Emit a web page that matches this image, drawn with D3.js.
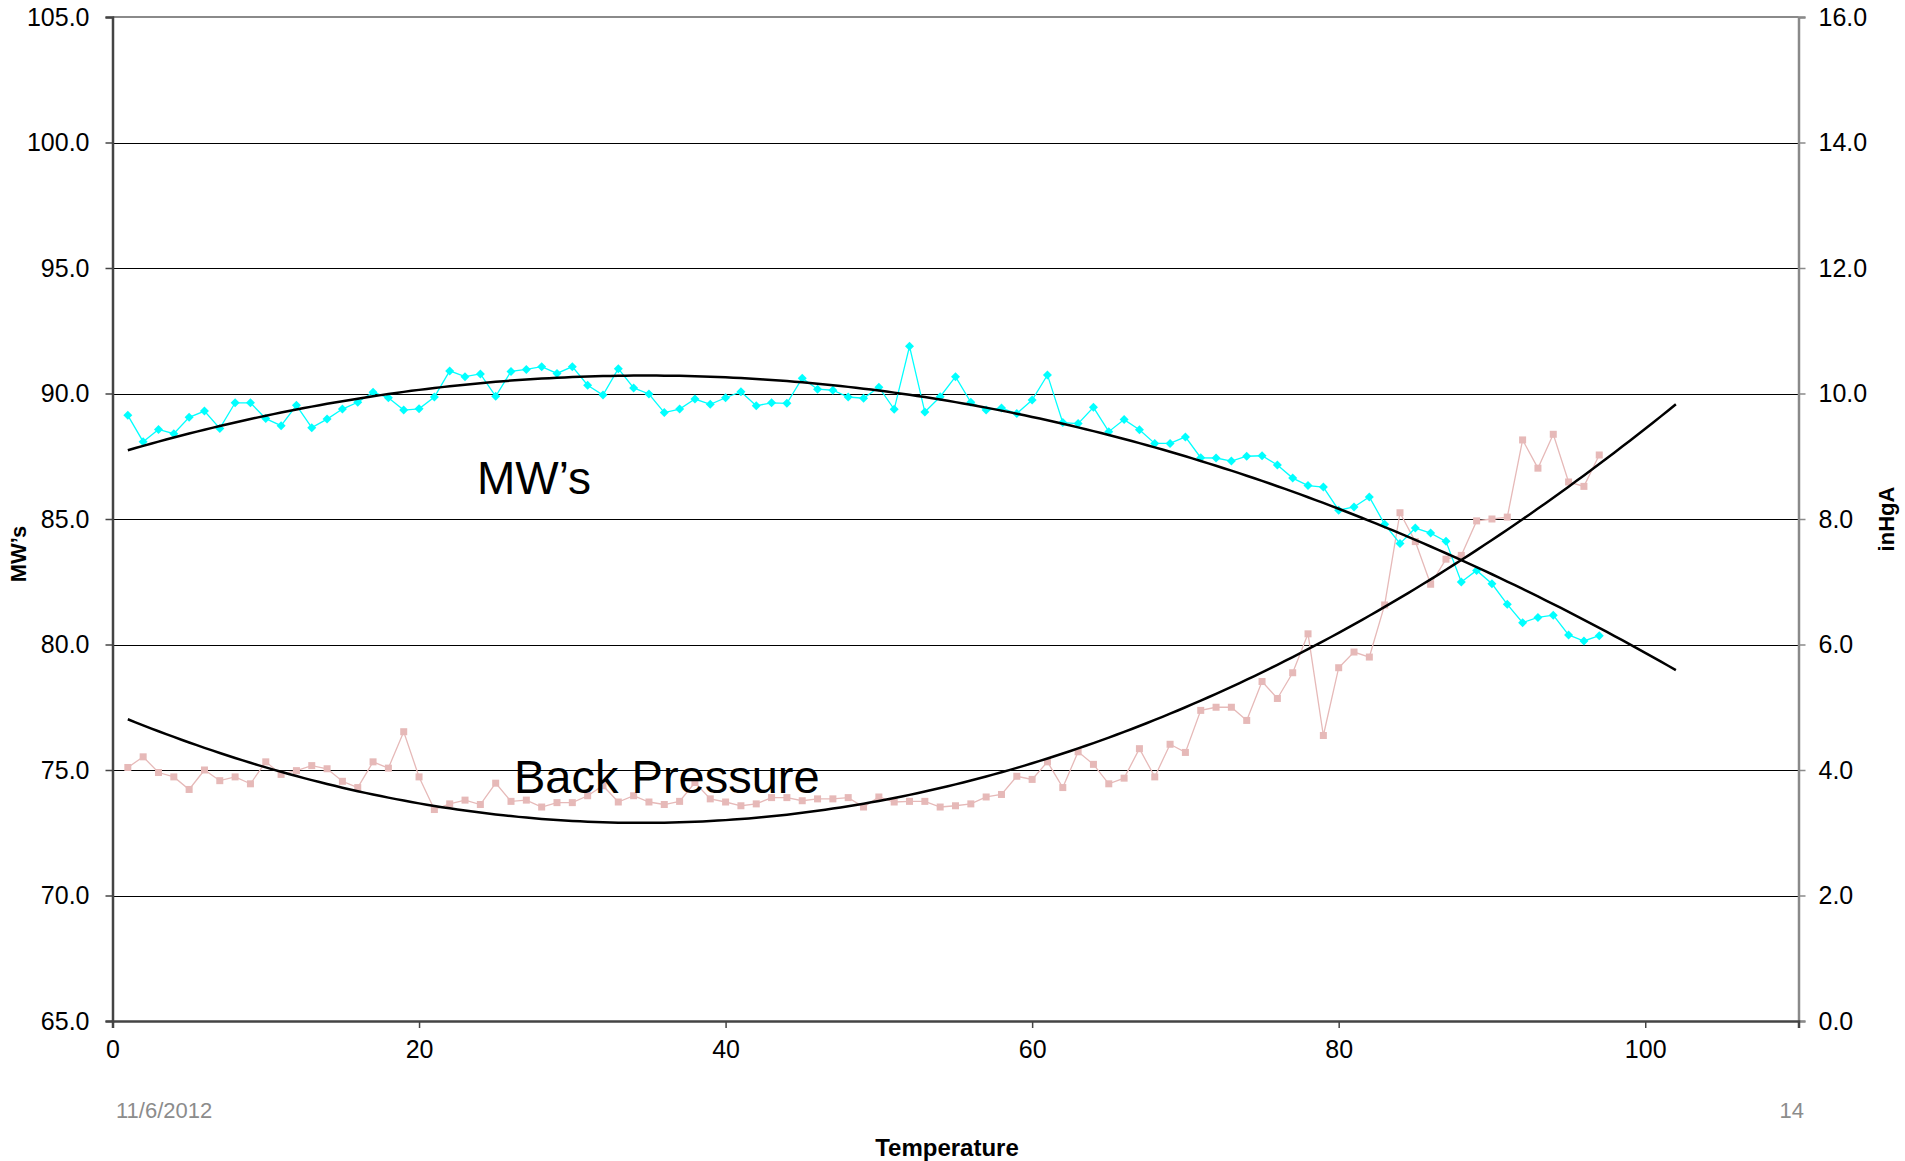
<!DOCTYPE html>
<html>
<head>
  <meta charset="utf-8">
  <script src="https://d3js.org/d3.v7.min.js"></script>
  <style>
    body { margin: 0; background: #fff; font-family: 'Liberation Sans', Arial, sans-serif; }
  </style>
</head>
<body>
  <div id="my_dataviz"></div>

  <script>
    // temperature (x) for each reading
    var temps = [1, 2, 3, 4, 5, 6, 7, 8, 9, 10, 11, 12, 13, 14, 15, 16, 17, 18, 19, 20,
      21, 22, 23, 24, 25, 26, 27, 28, 29, 30, 31, 32, 33, 34, 35, 36, 37, 38, 39, 40,
      41, 42, 43, 44, 45, 46, 47, 48, 49, 50, 51, 52, 53, 54, 55, 56, 57, 58, 59, 60,
      61, 62, 63, 64, 65, 66, 67, 68, 69, 70, 71, 72, 73, 74, 75, 76, 77, 78, 79, 80,
      81, 82, 83, 84, 85, 86, 87, 88, 89, 90, 91, 92, 93, 94, 95, 96, 97];

    // MW's (left axis)
    var mw = [89.13, 88.08, 88.57, 88.40, 89.05, 89.30, 88.61, 89.63, 89.63, 89.00,
      88.72, 89.53, 88.64, 88.98, 89.38, 89.65, 90.05, 89.83, 89.34, 89.39,
      89.86, 90.90, 90.67, 90.78, 89.89, 90.88, 90.96, 91.07, 90.80, 91.07,
      90.33, 89.94, 90.99, 90.22, 89.98, 89.24, 89.38, 89.78, 89.57, 89.83,
      90.07, 89.51, 89.63, 89.61, 90.61, 90.17, 90.13, 89.86, 89.81, 90.25,
      89.37, 91.88, 89.26, 89.87, 90.67, 89.65, 89.34, 89.42, 89.20, 89.74,
      90.74, 88.84, 88.80, 89.45, 88.48, 88.96, 88.56, 88.01, 88.01, 88.27,
      87.44, 87.43, 87.31, 87.50, 87.52, 87.15, 86.63, 86.33, 86.27, 85.35,
      85.48, 85.88, 84.79, 84.02, 84.64, 84.44, 84.11, 82.49, 82.95, 82.42,
      81.60, 80.87, 81.08, 81.17, 80.38, 80.14, 80.35];

    // back pressure in inHgA (right axis)
    var bp = [4.04, 4.21, 3.96, 3.89, 3.69, 4.00, 3.83, 3.89, 3.78, 4.13,
      3.93, 3.99, 4.07, 4.02, 3.82, 3.72, 4.13, 4.03, 4.61, 3.89,
      3.37, 3.46, 3.52, 3.45, 3.79, 3.50, 3.52, 3.41, 3.48, 3.48,
      3.59, 3.75, 3.49, 3.59, 3.49, 3.45, 3.50, 3.80, 3.54, 3.49,
      3.43, 3.46, 3.56, 3.56, 3.51, 3.54, 3.54, 3.56, 3.41, 3.57,
      3.49, 3.50, 3.50, 3.41, 3.43, 3.46, 3.57, 3.61, 3.90, 3.85,
      4.13, 3.72, 4.29, 4.09, 3.78, 3.87, 4.34, 3.89, 4.41, 4.28,
      4.95, 5.00, 5.00, 4.79, 5.41, 5.14, 5.55, 6.17, 4.55, 5.63,
      5.88, 5.80, 6.63, 8.10, 7.64, 6.96, 7.36, 7.42, 7.97, 8.00,
      8.03, 9.26, 8.81, 9.35, 8.59, 8.52, 9.02];

    var xTicks = [0, 20, 40, 60, 80, 100];
    var yLeftTicks = [65, 70, 75, 80, 85, 90, 95, 100, 105];
    var yRightTicks = [0, 2, 4, 6, 8, 10, 12, 14, 16];
    var trendEnd = 102; // trendlines run a little past the last reading

    var W = 1905, H = 1161;
    var plotLeft = 112.5, plotRight = 1798.5, plotTop = 17, plotBottom = 1021;

    var svg = d3.select("#my_dataviz")
      .append("svg")
      .attr("width", W)
      .attr("height", H);

    var x = d3.scaleLinear().domain([0, 110]).range([plotLeft, plotRight]);
    var y = d3.scaleLinear().domain([65, 105]).range([plotBottom, plotTop]);
    var y2 = d3.scaleLinear().domain([0, 16]).range([plotBottom, plotTop]);

    // horizontal gridlines
    svg.append("g")
      .selectAll("line")
      .data(yLeftTicks.slice(1, -1))
      .enter()
      .append("line")
      .attr("x1", plotLeft).attr("x2", plotRight)
      .attr("y1", function (d) { return Math.round(y(d)) + 0.5; })
      .attr("y2", function (d) { return Math.round(y(d)) + 0.5; })
      .attr("stroke", "#000")
      .attr("stroke-width", 1);

    // top border
    svg.append("line")
      .attr("x1", plotLeft).attr("x2", plotRight)
      .attr("y1", plotTop).attr("y2", plotTop)
      .attr("stroke", "#8a8a8a").attr("stroke-width", 2);

    // left axis
    var gl = svg.append("g").attr("transform", "translate(" + plotLeft + ",0)")
      .call(d3.axisLeft(y).tickValues(yLeftTicks).tickFormat(d3.format(".1f")).tickSize(7).tickPadding(16));
    gl.select(".domain").attr("stroke", "#444").attr("stroke-width", 2.5);
    gl.selectAll(".tick line").attr("stroke", "#444").attr("stroke-width", 1.5);
    gl.selectAll("text").attr("font-size", 25).attr("fill", "#000")
      .attr("font-family", "'Liberation Sans', Arial, sans-serif");

    // right axis
    var gr = svg.append("g").attr("transform", "translate(" + plotRight + ",0)")
      .call(d3.axisRight(y2).tickValues(yRightTicks).tickFormat(d3.format(".1f")).tickSize(7).tickPadding(13));
    gr.select(".domain").attr("stroke", "#8a8a8a").attr("stroke-width", 2.5);
    gr.selectAll(".tick line").attr("stroke", "#8a8a8a").attr("stroke-width", 1.5);
    gr.selectAll("text").attr("font-size", 25).attr("fill", "#000")
      .attr("font-family", "'Liberation Sans', Arial, sans-serif");

    // bottom axis
    var gb = svg.append("g").attr("transform", "translate(0," + plotBottom + ")")
      .call(d3.axisBottom(x).tickValues(xTicks).tickSize(7).tickPadding(12));
    gb.select(".domain").attr("stroke", "#444").attr("stroke-width", 2.5);
    gb.selectAll(".tick line").attr("stroke", "#444").attr("stroke-width", 1.5);
    gb.selectAll("text").attr("font-size", 25).attr("fill", "#000")
      .attr("font-family", "'Liberation Sans', Arial, sans-serif");

    // least squares quadratic, as a polynomial trendline
    function quadFit(xs, ys) {
      var n = xs.length, s = [0, 0, 0, 0, 0], t = [0, 0, 0];
      for (var i = 0; i < n; i++) {
        var p = 1;
        for (var k = 0; k < 5; k++) { s[k] += p; if (k < 3) t[k] += p * ys[i]; p *= xs[i]; }
      }
      var A = [[s[0], s[1], s[2], t[0]], [s[1], s[2], s[3], t[1]], [s[2], s[3], s[4], t[2]]];
      for (var c = 0; c < 3; c++) {
        for (var r = c + 1; r < 3; r++) {
          var f = A[r][c] / A[c][c];
          for (var j = c; j < 4; j++) A[r][j] -= f * A[c][j];
        }
      }
      var b = [0, 0, 0];
      for (var r2 = 2; r2 >= 0; r2--) {
        var v = A[r2][3];
        for (var j2 = r2 + 1; j2 < 3; j2++) v -= A[r2][j2] * b[j2];
        b[r2] = v / A[r2][r2];
      }
      return function (u) { return b[0] + b[1] * u + b[2] * u * u; };
    }

    var mwFit = quadFit(temps, mw);
    var bpFit = quadFit(temps, bp);
    var trendX = d3.range(1, trendEnd + 0.01, 0.5);

    // back pressure series
    svg.append("path")
      .datum(temps)
      .attr("fill", "none")
      .attr("stroke", "#e6b9b8")
      .attr("stroke-width", 1.3)
      .attr("d", d3.line().x(function (d) { return x(d); }).y(function (d, i) { return y2(bp[i]); }));

    svg.append("g")
      .selectAll("rect")
      .data(temps)
      .enter()
      .append("rect")
      .attr("x", function (d) { return x(d) - 3.5; })
      .attr("y", function (d, i) { return y2(bp[i]) - 3.5; })
      .attr("width", 7).attr("height", 7)
      .attr("fill", "#e6b9b8");

    // MW series
    svg.append("path")
      .datum(temps)
      .attr("fill", "none")
      .attr("stroke", "#00ffff")
      .attr("stroke-width", 1.3)
      .attr("d", d3.line().x(function (d) { return x(d); }).y(function (d, i) { return y(mw[i]); }));

    svg.append("g")
      .selectAll("path")
      .data(temps)
      .enter()
      .append("path")
      .attr("transform", function (d, i) { return "translate(" + x(d) + "," + y(mw[i]) + ")"; })
      .attr("d", "M0,-4.5L4.5,0L0,4.5L-4.5,0Z")
      .attr("fill", "#00ffff");

    // trendlines
    svg.append("path")
      .datum(trendX)
      .attr("fill", "none").attr("stroke", "#000").attr("stroke-width", 2.5)
      .attr("d", d3.line().x(function (d) { return x(d); }).y(function (d) { return y(mwFit(d)); }));

    svg.append("path")
      .datum(trendX)
      .attr("fill", "none").attr("stroke", "#000").attr("stroke-width", 2.5)
      .attr("d", d3.line().x(function (d) { return x(d); }).y(function (d) { return y2(bpFit(d)); }));

    // in-chart labels
    svg.append("text").attr("x", 477).attr("y", 494)
      .attr("font-size", 46).text("MW\u2019s");
    svg.append("text").attr("x", 514).attr("y", 793)
      .attr("font-size", 47).text("Back Pressure");

    // axis titles
    svg.append("text")
      .attr("transform", "translate(26,554) rotate(-90)")
      .style("text-anchor", "middle")
      .attr("font-size", 22).attr("font-weight", "bold")
      .text("MW\u2019s");

    svg.append("text")
      .attr("transform", "translate(1894,519) rotate(-90)")
      .style("text-anchor", "middle")
      .attr("font-size", 22).attr("font-weight", "bold")
      .text("inHgA");

    svg.append("text")
      .attr("x", 947).attr("y", 1156)
      .style("text-anchor", "middle")
      .attr("font-size", 24).attr("font-weight", "bold")
      .text("Temperature");

    // footer
    svg.append("text").attr("x", 116).attr("y", 1118)
      .attr("font-size", 22).attr("fill", "#8c8c8c").text("11/6/2012");
    svg.append("text").attr("x", 1804).attr("y", 1118)
      .style("text-anchor", "end")
      .attr("font-size", 22).attr("fill", "#8c8c8c").text("14");
  </script>
</body>
</html>
